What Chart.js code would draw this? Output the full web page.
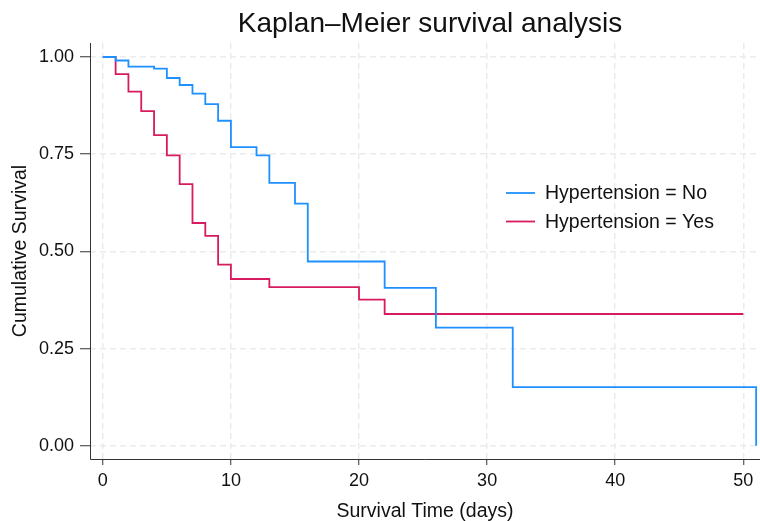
<!DOCTYPE html>
<html>
<head>
<meta charset="utf-8">
<script src="https://cdn.jsdelivr.net/npm/chart.js@4.4.1/dist/chart.umd.min.js"></script>
<style>
  html, body { margin: 0; padding: 0; background: #fff; }
  #wrap { width: 760px; height: 521px; }
</style>
</head>
<body>
<div id="wrap"><canvas id="km"></canvas></div>
<script>
// Kaplan-Meier step data
var noTimes  = [0, 1, 2, 4, 5, 6, 7, 8, 9, 10, 12, 13, 15, 16, 22, 26, 32, 51];
var noSurv   = [1, 0.991, 0.975, 0.970, 0.946, 0.928, 0.906, 0.879, 0.836, 0.768, 0.747, 0.676, 0.623, 0.474, 0.406, 0.304, 0.151, 0];
var yesTimes = [0, 1, 2, 3, 4, 5, 6, 7, 8, 9, 10, 13, 20, 22, 50];
var yesSurv  = [1, 0.956, 0.911, 0.861, 0.799, 0.747, 0.673, 0.573, 0.540, 0.466, 0.429, 0.408, 0.376, 0.339, 0.339];
var groupLabels = ['Hypertension = No', 'Hypertension = Yes'];
var xTicks = [0, 10, 20, 30, 40, 50];
var yTicks = [0, 0.25, 0.5, 0.75, 1];

var blue = 'rgb(30,144,255)';
var red = 'rgb(216,27,96)';
var font = 'Liberation Sans, Arial, Helvetica, sans-serif';

function pts(t, s) {
  return t.map(function (v, i) { return { x: v, y: s[i] }; });
}

// title, in-plot legend and solid axis lines
var overlay = {
  id: 'overlay',
  afterDraw: function (chart) {
    var c = chart.ctx, a = chart.chartArea;
    c.save();
    c.strokeStyle = '#333';
    c.lineWidth = 1;
    c.setLineDash([]);
    c.beginPath();
    c.moveTo(a.left + 0.5, a.top);
    c.lineTo(a.left + 0.5, a.bottom + 0.5);
    c.lineTo(a.right, a.bottom + 0.5);
    c.stroke();

    c.fillStyle = '#111';
    c.font = '28px ' + font;
    c.textAlign = 'center';
    c.textBaseline = 'middle';
    c.fillText('Kaplan\u2013Meier survival analysis', (a.left + a.right) / 2 + 5, 24);

    c.font = '19.5px ' + font;
    c.textAlign = 'left';
    var cols = [blue, red];
    for (var i = 0; i < groupLabels.length; i++) {
      var y = 193 + i * 28.5;
      c.strokeStyle = cols[i];
      c.lineWidth = 1.8;
      c.beginPath();
      c.moveTo(506, y);
      c.lineTo(535, y);
      c.stroke();
      c.fillStyle = '#111';
      c.fillText(groupLabels[i], 545, y + 1);
    }
    c.restore();
  }
};

var ctx = document.getElementById('km').getContext('2d');
var chart = new Chart(ctx, {
  type: 'line',
  data: {
    datasets: [{
      label: groupLabels[0],
      data: pts(noTimes, noSurv),
      borderColor: blue,
      borderWidth: 1.8,
      stepped: true,
      pointRadius: 0,
      fill: false
    }, {
      label: groupLabels[1],
      data: pts(yesTimes, yesSurv),
      borderColor: red,
      borderWidth: 1.8,
      stepped: true,
      pointRadius: 0,
      fill: false
    }]
  },
  options: {
    responsive: true,
    maintainAspectRatio: false,
    animation: false,
    layout: { padding: { top: 43, left: 0, right: 0, bottom: 0 } },
    plugins: {
      legend: { display: false },
      tooltip: { enabled: false }
    },
    scales: {
      x: {
        type: 'linear',
        min: -1,
        max: 51.3,
        afterFit: function (s) { s.height = 62; },
        afterBuildTicks: function (s) { s.ticks = xTicks.map(function (v) { return { value: v }; }); },
        grid: {
          color: '#ebebeb',
          lineWidth: 1.5,
          tickColor: '#333',
          tickLength: 6,
          tickWidth: 1,
          tickBorderDash: []
        },
        border: { display: false, dash: [6, 4] },
        ticks: {
          color: '#111',
          font: { family: font, size: 18 },
          padding: 5,
          maxRotation: 0
        },
        title: {
          display: true,
          text: 'Survival Time (days)',
          color: '#111',
          font: { family: font, size: 19.5, lineHeight: 1 },
          padding: { top: 4, bottom: 0 }
        }
      },
      y: {
        type: 'linear',
        min: -0.034,
        max: 1.036,
        afterFit: function (s) { s.width = 90; },
        afterBuildTicks: function (s) { s.ticks = yTicks.map(function (v) { return { value: v }; }); },
        grid: {
          color: '#ebebeb',
          lineWidth: 1.5,
          tickColor: '#333',
          tickLength: 10,
          tickWidth: 1,
          tickBorderDash: []
        },
        border: { display: false, dash: [6, 4] },
        ticks: {
          color: '#111',
          font: { family: font, size: 18 },
          padding: 6,
          callback: function (v) { return v.toFixed(2); }
        },
        title: {
          display: true,
          text: 'Cumulative Survival',
          color: '#111',
          font: { family: font, size: 19.5 },
          padding: { top: 9, bottom: 0 }
        }
      }
    }
  },
  plugins: [overlay]
});
</script>
</body>
</html>
